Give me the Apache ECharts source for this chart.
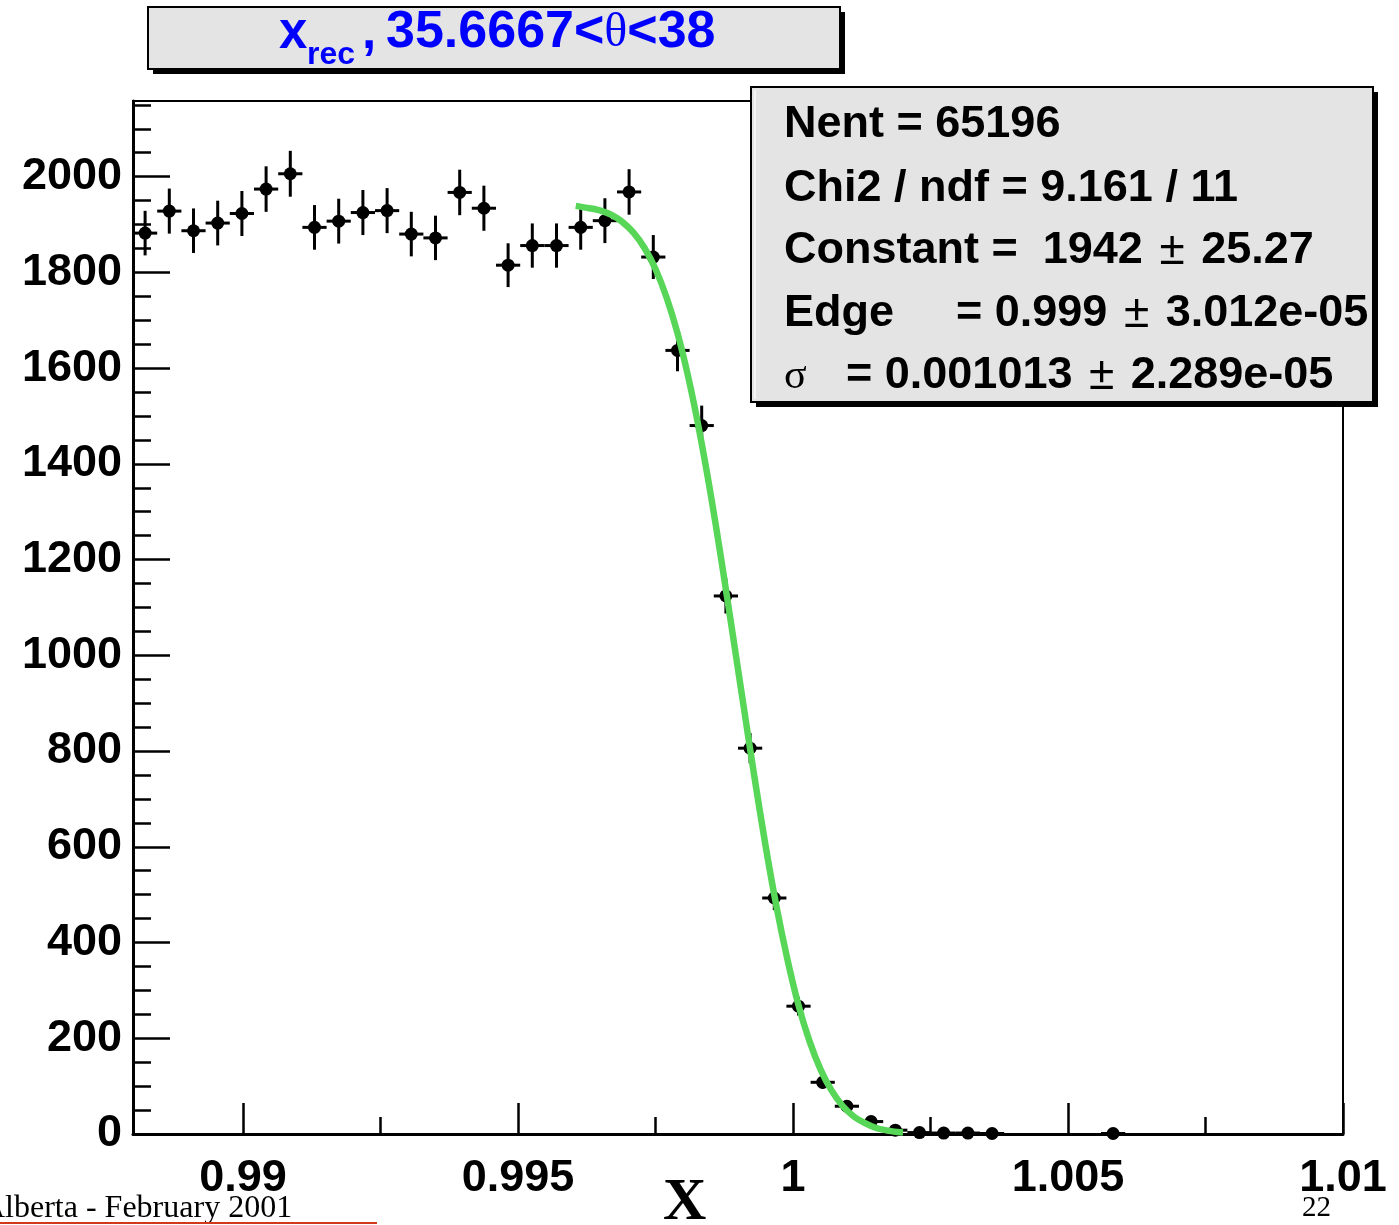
<!DOCTYPE html>
<html>
<head>
<meta charset="utf-8">
<script src="https://cdn.jsdelivr.net/npm/echarts@6/dist/echarts.min.js"></script>
<style>
html,body{margin:0;padding:0;background:#fff;}
#chart{width:1399px;height:1225px;}
</style>
</head>
<body>
<div id="chart"></div>
<script>
// ---- Data ----
const binWidth = 0.00044;
const binCenters = [0.98822,0.98866,0.98910,0.98954,0.98998,0.99042,0.99086,0.99130,0.99174,0.99218,
  0.99262,0.99306,0.99350,0.99394,0.99438,0.99482,0.99526,0.99570,0.99614,0.99658,
  0.99702,0.99746,0.99790,0.99834,0.99878,0.99922,0.99966,1.00010,1.00054,1.00098,
  1.00142,1.00186,1.00230,1.00274,1.00318,1.00362,1.00582];
const counts = [1882,1928,1887,1903,1923,1974,2006,1894,1907,1925,
  1929,1880,1872,1967,1934,1815,1856,1856,1894,1908,
  1968,1832,1637,1480,1124,806,493,267,108,58,
  26,8,3,2,2,1,1];
const errors = [43.4,43.9,43.4,43.6,43.9,44.4,44.8,43.5,43.7,43.9,
  43.9,43.4,43.3,44.4,44.0,42.6,43.1,43.1,43.5,43.7,
  44.4,42.8,40.5,38.5,33.5,28.4,22.2,16.3,10.4,7.6,
  5.1,2.8,1.7,1.4,1.4,1.0,1.0];
const fitX = [0.99605,0.9963,0.9965,0.9967,0.9969,0.9971,0.9973,0.9975,0.9977,0.9979,
  0.9981,0.9983,0.9985,0.9987,0.9989,0.9991,0.9993,0.9995,0.9997,0.9999,
  1.0001,1.0003,1.0005,1.0007,1.0009,1.0011,1.0013,1.0015,1.0017,1.0019,1.0020];
const fitY = [1939,1934,1929,1920,1905,1883,1851,1807,1748,1673,
  1579,1467,1339,1197,1047,895,745,603,475,364,
  269,194,135,91,59,37,23,13,7.5,4,3];
const xMajorTicks = [0.99,0.995,1,1.005,1.01];
const xTickLabels = ['0.99','0.995','1','1.005','1.01'];
const xMinorTicks = [0.9925,0.9975,1.0025,1.0075];
const yMajorTicks = [0,200,400,600,800,1000,1200,1400,1600,1800,2000];
const yTickLabels = ['0','200','400','600','800','1000','1200','1400','1600','1800','2000'];
const yMinorTicks = [50,100,150,250,300,350,450,500,550,650,700,750,850,900,950,1050,1100,1150,
  1250,1300,1350,1450,1500,1550,1650,1700,1750,1850,1900,1950,2050,2100,2150];
const titleMain = 'x';
const titleSub = 'rec';
const titleRange = ['35.6667<', 'θ', '<38'];
const statLines = ['Nent = 65196','Chi2 / ndf = 9.161 / 11'];
const statConstant = ['Constant =  1942 ', '±', ' 25.27'];
const statEdge = ['Edge', '= 0.999 ', '±', ' 3.012e-05'];
const statSigma = ['σ', '= 0.001013 ', '±', ' 2.289e-05'];
const footerLeft = 'Alberta - February 2001';
const footerAxis = 'X';
const footerPage = '22';

// ---- Chart ----
const SANS = '"Liberation Sans", Arial, Helvetica, sans-serif';
const SERIF = '"Liberation Serif", "Times New Roman", serif';
const chart = echarts.init(document.getElementById('chart'), null, {renderer:'canvas'});

const pts = binCenters.map((x,i)=>[x, counts[i], errors[i]]);
const fit = fitX.map((x,i)=>[x, fitY[i]]);

const labelStyle = {color:'#000', fontFamily:SANS, fontWeight:'bold', fontSize:45};

function richRow(parts, styles){
  return parts.map((p,i)=>'{'+styles[i]+'|'+p+'}').join('');
}
const statRich = {
  b:{fontFamily:SANS, fontWeight:'bold', fontSize:45, color:'#000'},
  p:{fontFamily:SANS, fontWeight:'normal', fontSize:46, color:'#000', padding:[0,4,0,4]},
  s:{fontFamily:SERIF, fontWeight:'normal', fontSize:44, color:'#000'}
};

const option = {
  animation:false,
  grid:{left:133, top:101, width:1210, height:1033, show:true, borderColor:'#000', borderWidth:2, backgroundColor:'transparent'},
  xAxis:[{
    type:'value', min:0.988, max:1.01, position:'bottom',
    axisLine:{show:true, onZero:false, lineStyle:{color:'#000', width:3}},
    axisTick:{show:true, inside:true, length:31, customValues:xMajorTicks, lineStyle:{color:'#000', width:2.5}},
    axisLabel:Object.assign({show:true, margin:22, customValues:xMajorTicks,
      formatter:(v)=>{const k=xMajorTicks.findIndex(t=>Math.abs(t-v)<1e-9); return k>=0?xTickLabels[k]:'';}}, labelStyle),
    splitLine:{show:false}
  },{
    type:'value', min:0.988, max:1.01, position:'bottom', offset:0,
    axisLine:{show:false},
    axisTick:{show:true, inside:true, length:17, customValues:xMinorTicks, lineStyle:{color:'#000', width:2.5}},
    axisLabel:{show:false},
    splitLine:{show:false}
  }],
  yAxis:[{
    type:'value', min:0, max:2158, position:'left',
    axisLine:{show:true, onZero:false, lineStyle:{color:'#000', width:3}},
    axisTick:{show:true, inside:true, length:37, customValues:yMajorTicks, lineStyle:{color:'#000', width:2.5}},
    axisLabel:Object.assign({show:true, margin:11, padding:[6,0,0,0], customValues:yMajorTicks,
      formatter:(v)=>{const k=yMajorTicks.indexOf(Math.round(v)); return k>=0?yTickLabels[k]:'';}}, labelStyle),
    splitLine:{show:false}
  },{
    type:'value', min:0, max:2158, position:'left', offset:0,
    axisLine:{show:false},
    axisTick:{show:true, inside:true, length:18, customValues:yMinorTicks, lineStyle:{color:'#000', width:2.5}},
    axisLabel:{show:false},
    splitLine:{show:false}
  }],
  series:[{
    type:'custom', xAxisIndex:0, yAxisIndex:0, z:3, clip:false,
    data:pts,
    renderItem:function(params, api){
      const x=api.value(0), y=api.value(1), e=api.value(2);
      const c=api.coord([x,y]);
      const t=api.coord([x,y+e]);
      const b=api.coord([x,Math.max(0,y-e)]);
      const l=api.coord([x-binWidth/2,y]);
      const r=api.coord([x+binWidth/2,y]);
      return {type:'group', children:[
        {type:'line', shape:{x1:c[0],y1:t[1]-1.5,x2:c[0],y2:b[1]+1.5}, style:{stroke:'#000', lineWidth:3}},
        {type:'line', shape:{x1:l[0],y1:c[1],x2:r[0],y2:c[1]}, style:{stroke:'#000', lineWidth:3}},
        {type:'circle', shape:{cx:c[0],cy:c[1],r:6.5}, style:{fill:'#000'}}
      ]};
    }
  },{
    type:'line', xAxisIndex:0, yAxisIndex:0, z:5,
    data:fit, smooth:0.3, showSymbol:false, symbol:'none',
    lineStyle:{color:'#57d657', width:6.5}
  }],
  graphic:[
    // title box
    {type:'rect', z:100, shape:{x:153,y:12,width:692,height:62}, style:{fill:'#000'}},
    {type:'rect', z:101, shape:{x:148,y:7,width:692,height:62}, style:{fill:'#e4e4e4', stroke:'#000', lineWidth:2}},
    {type:'text', z:102, x:279, y:34, style:{text:titleMain, fill:'#0000ff', font:'bold 51px '+SANS, verticalAlign:'middle', align:'left'}},
    {type:'text', z:102, x:307, y:55, style:{text:titleSub, fill:'#0000ff', font:'bold 32px '+SANS, verticalAlign:'middle', align:'left'}},
    {type:'text', z:102, x:362, y:34, style:{text:',', fill:'#0000ff', font:'bold 51px '+SANS, verticalAlign:'middle', align:'left'}},
    {type:'text', z:102, x:386, y:33, style:{
      text:richRow(titleRange,['a','t','a']), verticalAlign:'middle', align:'left',
      rich:{a:{fontFamily:SANS, fontWeight:'bold', fontSize:52, fill:'#0000ff', color:'#0000ff'},
            t:{fontFamily:SERIF, fontWeight:'normal', fontSize:48, fill:'#0000ff', color:'#0000ff'}}}},
    // stats box
    {type:'rect', z:100, shape:{x:756,y:92,width:622,height:315}, style:{fill:'#000'}},
    {type:'rect', z:101, shape:{x:751,y:87,width:622,height:315}, style:{fill:'#e4e4e4', stroke:'#000', lineWidth:2}},
    {type:'line', z:102, shape:{x1:755,y1:90,x2:755,y2:399}, style:{stroke:'#f4f4f4', lineWidth:2}},
    {type:'text', z:102, x:784, y:125, style:{text:statLines[0], font:'bold 45px '+SANS, fill:'#000', verticalAlign:'middle', align:'left'}},
    {type:'text', z:102, x:784, y:189, style:{text:statLines[1], font:'bold 45px '+SANS, fill:'#000', verticalAlign:'middle', align:'left'}},
    {type:'text', z:102, x:784, y:251, style:{text:richRow(statConstant,['b','p','b']), rich:statRich, verticalAlign:'middle', align:'left'}},
    {type:'text', z:102, x:784, y:314, style:{text:statEdge[0], font:'bold 45px '+SANS, fill:'#000', verticalAlign:'middle', align:'left'}},
    {type:'text', z:102, x:956, y:314, style:{text:richRow(statEdge.slice(1),['b','p','b']), rich:statRich, verticalAlign:'middle', align:'left'}},
    {type:'text', z:102, x:784, y:377, style:{text:statSigma[0], font:'normal 42px '+SERIF, fill:'#000', verticalAlign:'middle', align:'left'}},
    {type:'text', z:102, x:846, y:376, style:{text:richRow(statSigma.slice(1),['b','p','b']), rich:statRich, verticalAlign:'middle', align:'left'}},
    // footer
    {type:'text', z:102, x:-18, y:1209, style:{text:footerLeft, font:'normal 32px '+SERIF, fill:'#000', verticalAlign:'middle', align:'left'}},
    {type:'line', z:102, shape:{x1:0,y1:1223,x2:377,y2:1223}, style:{stroke:'#d4381c', lineWidth:2}},
    {type:'text', z:102, x:663, y:1203, style:{text:footerAxis, font:'bold 60px '+SERIF, fill:'#000', verticalAlign:'middle', align:'left'}},
    {type:'text', z:102, x:1302, y:1208, style:{text:footerPage, font:'normal 29px '+SERIF, fill:'#000', verticalAlign:'middle', align:'left'}}
  ]
};
chart.setOption(option);
</script>
</body>
</html>
